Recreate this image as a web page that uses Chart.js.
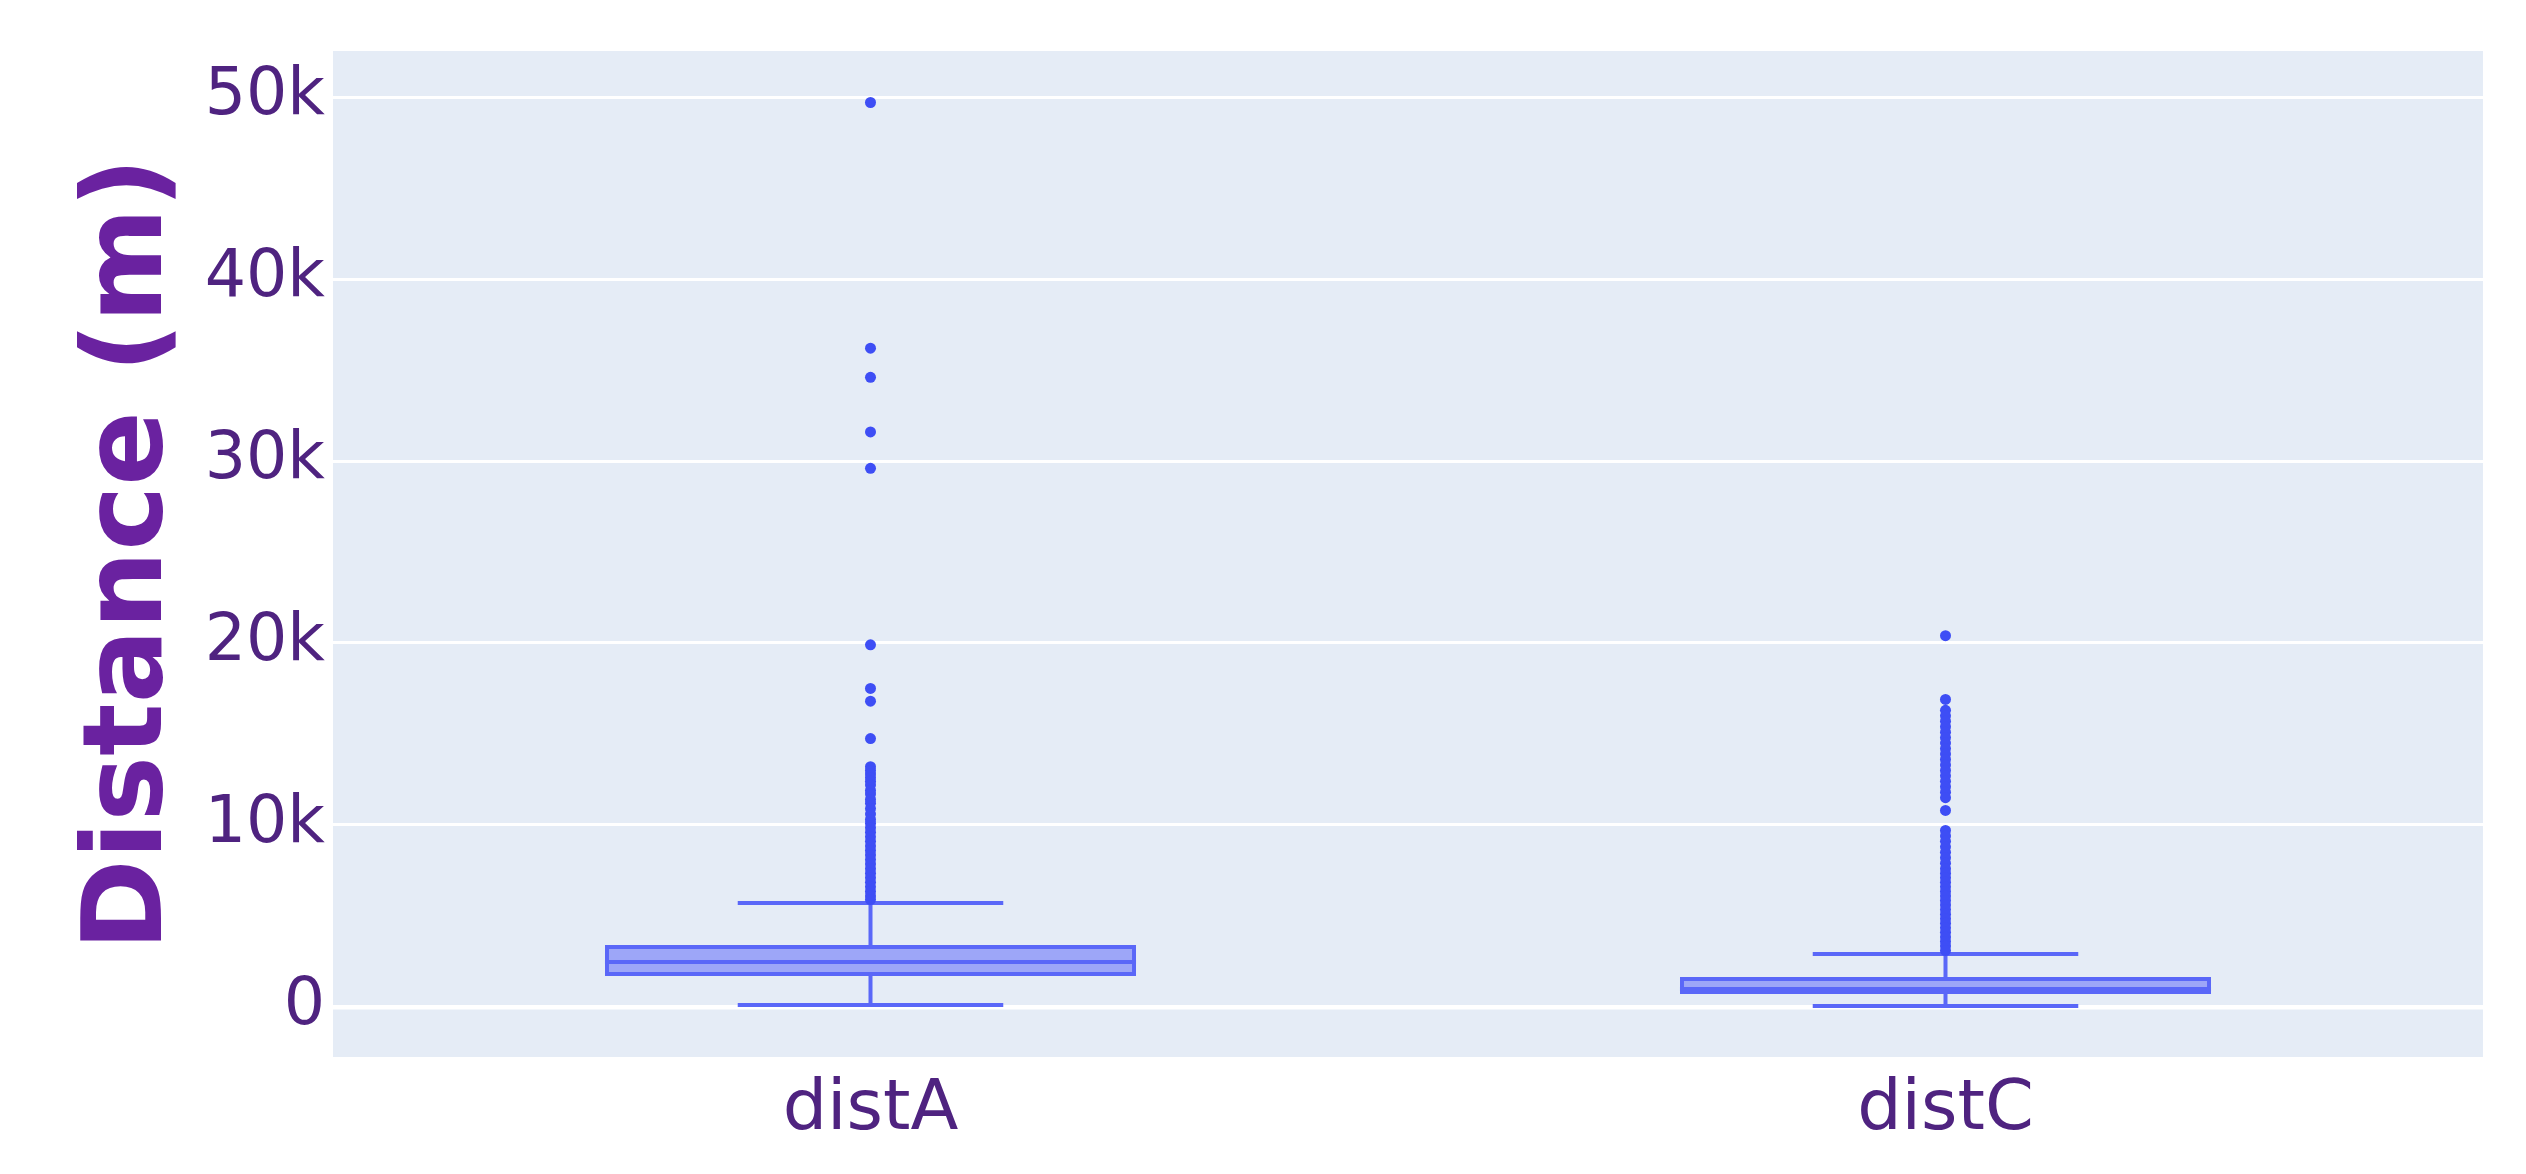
<!DOCTYPE html>
<html>
<head>
<meta charset="utf-8">
<script src="https://cdn.jsdelivr.net/npm/chart.js@4/dist/chart.umd.min.js"></script>
<style>
  html, body { margin: 0; padding: 0; background: #ffffff; }
  #wrap { width: 2526px; height: 1174px; }
</style>
</head>
<body>
<div id="wrap"><canvas id="c" width="2526" height="1174"></canvas></div>
<script>
// ---- data ----
const categories = ['distA', 'distC'];
const lowerWhisker = [110, 55];
const q1 = [1703, 714];
const median = [2473, 989];
const q3 = [3407, 1648];
const upperWhisker = [5714, 2912];
const outliersA = [49700, 36200, 34600, 31600, 29600, 19900, 17500, 16800, 14750,
  13200, 13000, 12800, 12600, 12400, 12200, 11900, 11700, 11400, 11200, 10900,
  10600, 10300, 10100, 9850, 9600, 9350, 9100, 8850, 8600, 8350, 8100, 7850,
  7600, 7350, 7100, 6850, 6600, 6350, 6100, 5900];
const outliersC = [20400, 16900, 16300, 16000, 15700, 15400, 15100, 14800, 14500,
  14200, 13900, 13600, 13300, 13000, 12700, 12400, 12100, 11800, 11500, 10800,
  9700, 9400, 9100, 8800, 8500, 8200, 7900, 7600, 7350, 7100, 6850, 6600, 6350,
  6100, 5850, 5600, 5350, 5100, 4850, 4600, 4350, 4100, 3850, 3600, 3350, 3100];
const yTickValues = [0, 10000, 20000, 30000, 40000, 50000];
const yTitle = 'Distance (m)';

const LINE = '#5a67f8';
const POINT = 'rgb(62,78,245)';

const bgPlugin = {
  id: 'bg',
  beforeDraw(chart) {
    const { ctx, chartArea: a } = chart;
    ctx.save();
    ctx.fillStyle = '#ffffff';
    ctx.fillRect(0, 0, chart.width, chart.height);
    ctx.fillStyle = '#E5ECF6';
    ctx.fillRect(a.left, a.top, a.right - a.left, a.bottom - a.top);
    ctx.restore();
  }
};

const whiskerPlugin = {
  id: 'whiskers',
  afterDatasetDraw(chart, args) {
    if (args.index !== 0) return;
    const { ctx, chartArea: a } = chart;
    const xs = chart.scales.x, ys = chart.scales.y;
    const meta = chart.getDatasetMeta(0);
    ctx.save();
    ctx.beginPath();
    ctx.rect(a.left, a.top, a.right - a.left, a.bottom - a.top);
    ctx.clip();
    ctx.strokeStyle = LINE;
    ctx.lineWidth = 4;
    categories.forEach((c, i) => {
      const cx = xs.getPixelForValue(i);
      const half = meta.data[i].width / 2;
      const cap = half / 2;
      const yMed = ys.getPixelForValue(median[i]);
      const yQ1 = ys.getPixelForValue(q1[i]);
      const yQ3 = ys.getPixelForValue(q3[i]);
      const yLo = ys.getPixelForValue(lowerWhisker[i]);
      const yHi = ys.getPixelForValue(upperWhisker[i]);
      ctx.beginPath();
      ctx.moveTo(cx - half, yMed); ctx.lineTo(cx + half, yMed);
      ctx.moveTo(cx, yQ3); ctx.lineTo(cx, yHi);
      ctx.moveTo(cx, yQ1); ctx.lineTo(cx, yLo);
      ctx.moveTo(cx - cap, yHi); ctx.lineTo(cx + cap, yHi);
      ctx.moveTo(cx - cap, yLo); ctx.lineTo(cx + cap, yLo);
      ctx.stroke();
    });
    ctx.restore();
  }
};

const pointsDataset = (cat, arr) => ({
  type: 'line',
  showLine: false,
  data: arr.map(v => ({ x: cat, y: v })),
  pointRadius: 5.5,
  pointHoverRadius: 5.5,
  pointBackgroundColor: POINT,
  pointBorderWidth: 0,
  order: 1
});

new Chart(document.getElementById('c'), {
  type: 'bar',
  data: {
    labels: categories,
    datasets: [
      {
        type: 'bar',
        data: categories.map((c, i) => [q1[i], q3[i]]),
        backgroundColor: 'rgba(99,110,250,0.55)',
        borderColor: LINE,
        borderWidth: 4,
        borderSkipped: false,
        barPercentage: 0.494,
        categoryPercentage: 1,
        order: 2
      },
      pointsDataset('distA', outliersA),
      pointsDataset('distC', outliersC)
    ]
  },
  options: {
    responsive: false,
    animation: false,
    devicePixelRatio: 1,
    layout: { padding: { top: 51, right: 43, left: 0, bottom: 0 } },
    plugins: { legend: { display: false }, tooltip: { enabled: false } },
    scales: {
      x: {
        type: 'category',
        grid: { display: false, drawTicks: false },
        border: { display: false },
        ticks: {
          color: '#4f2380',
          font: { family: 'DejaVu Sans', size: 70 },
          padding: 12
        },
        afterFit(s) { s.height = 117; }
      },
      y: {
        min: -2750,
        max: 52530,
        grid: {
          color: '#ffffff',
          lineWidth: (ctx) => (ctx.tick && ctx.tick.value === 0 ? 4.5 : 3),
          drawTicks: false
        },
        border: { display: false },
        afterBuildTicks(s) { s.ticks = yTickValues.map(v => ({ value: v })); },
        ticks: {
          color: '#4f2380',
          font: { family: 'DejaVu Sans', size: 65 },
          padding: 8,
          callback: (v) => (v === 0 ? '0' : (v / 1000) + 'k')
        },
        title: {
          display: true,
          text: yTitle,
          color: '#6a22a0',
          font: { family: 'DejaVu Sans', size: 110, weight: 'bold' },
          padding: { top: 66, bottom: 0 }
        },
        afterFit(s) { s.width = 333; }
      }
    }
  },
  plugins: [bgPlugin, whiskerPlugin]
});
</script>
</body>
</html>
